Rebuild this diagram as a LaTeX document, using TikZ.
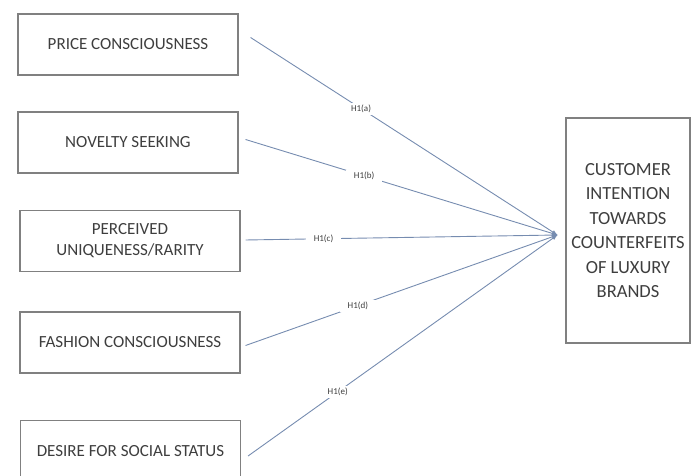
\documentclass[tikz,border=0pt]{standalone}
\usepackage{fontspec}
\setmainfont{Carlito}
\usetikzlibrary{arrows, positioning}
\definecolor{boxgray}{RGB}{128,128,128}
\definecolor{txtgray}{RGB}{62,62,62}
\definecolor{hypblue}{RGB}{118,140,176}

\begin{document}
\begin{tikzpicture}[x=1pt,y=1pt,line width=1.1pt,>=latex,
	factor/.style={draw=boxgray, text=txtgray, minimum width=220pt, minimum height=61pt,
		inner sep=0pt, align=center, font=\fontsize{17}{21}\selectfont},
	outcome/.style={draw=boxgray, text=txtgray, minimum width=124pt, minimum height=225pt,
		inner sep=0pt, align=center, font=\fontsize{18.5}{24.5}\selectfont},
	hypline/.style={->, draw=hypblue, line width=0.9pt},
	hyplabel/.style={fill=white, text=txtgray, inner xsep=8pt, inner ysep=2pt,
		font=\fontsize{9}{10}\selectfont}]
	
	\useasboundingbox (0,0) rectangle (691,476);
	
	% antecedents
	\node[factor] (pc) at (128,431.5) {PRICE CONSCIOUSNESS};
	\node[factor] (ns) at (128,333.5) {NOVELTY SEEKING};
	\node[factor] (pu) at (130,235) {PERCEIVED\\UNIQUENESS/RARITY};
	\node[factor] (fc) at (130,133.5) {FASHION CONSCIOUSNESS};
	\node[factor] (ds) at (130.5,25) {DESIRE FOR SOCIAL STATUS};
	
	% outcome
	\node[outcome] (ci) at (628,245.5) {CUSTOMER\\INTENTION\\TOWARDS\\COUNTERFEITS\\OF LUXURY\\BRANDS};
	\coordinate (tip) at ([xshift=-8pt,yshift=-4.5pt]ci.west);
	
	% hypotheses
	\foreach \src/\dx/\dy/\hyp/\where in {
		pc/12/7/a/0.36,
		ns/7/3/b/0.38,
		pu/5/1/c/0.25,
		fc/5/-3/d/0.36,
		ds/7/-5/e/0.29
	}{
		\draw[hypline] ([xshift=\dx pt,yshift=\dy pt]\src.east) -- node[hyplabel,pos=\where] {H1(\hyp)} (tip);
	}
	
\end{tikzpicture}
\end{document}
